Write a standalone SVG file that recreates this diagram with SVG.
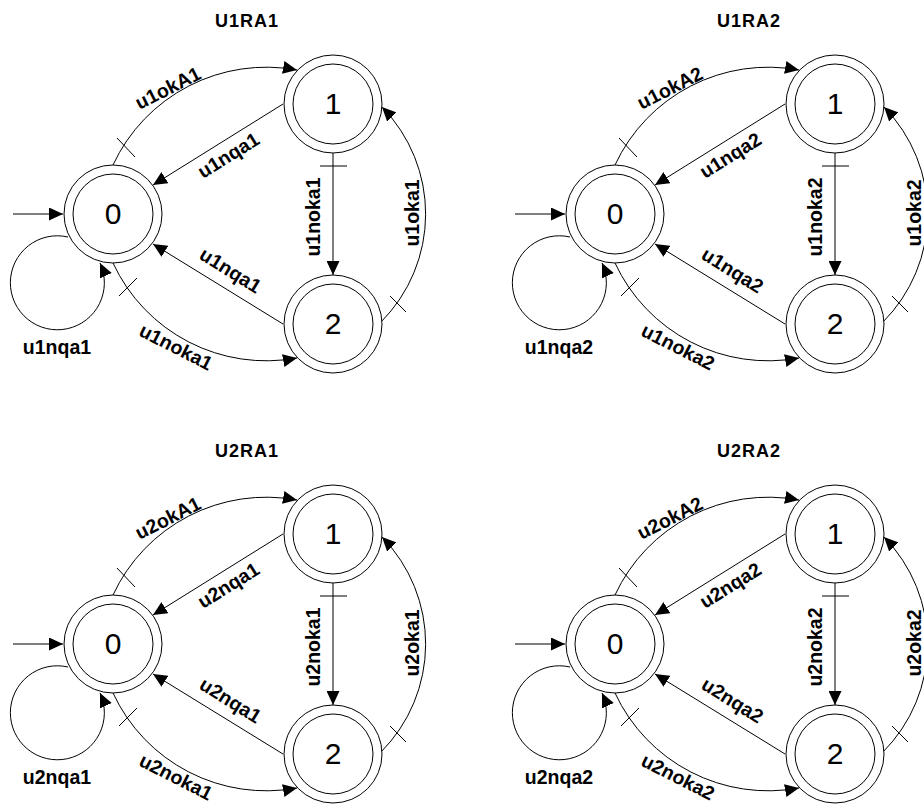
<svg xmlns="http://www.w3.org/2000/svg" width="924" height="805" viewBox="0 0 924 805">
<defs>
<marker id="ah" markerUnits="userSpaceOnUse" markerWidth="14" markerHeight="13" refX="14" refY="6.5" orient="auto"><path d="M0,0 L14,6.5 L0,13 z" fill="#000"/></marker>
<style>
.e{fill:none;stroke:#000;stroke-width:1;marker-end:url(#ah)}
.k{fill:none;stroke:#000;stroke-width:1}
.o{fill:#fff;stroke:#000;stroke-width:1}
.i{fill:none;stroke:#000;stroke-width:1}
.n{font-family:"Liberation Sans",Arial,sans-serif;font-size:30px;text-anchor:middle;fill:#000}
.l{font-family:"Liberation Sans",Arial,sans-serif;font-size:19.5px;font-weight:bold;text-anchor:middle;fill:#000}
.t{font-family:"Liberation Sans",Arial,sans-serif;font-size:18px;font-weight:bold;letter-spacing:1px;text-anchor:middle;fill:#000}
</style>
</defs>
<rect width="924" height="805" fill="#fff"/>

<!-- U1RA1 -->
<g id="U1RA1" transform="translate(0,0)">
<text class="t" x="247" y="27">U1RA1</text>
<g id="U1RA1-edges">
<path class="e" d="M13,214 H63"/>
<path class="e" d="M68,237 A47,47 0 1,0 100,263"/>
<path class="e" d="M113,165 A169,169 0 0,1 297,70"/>
<path class="e" d="M283,104 L153,185"/>
<path class="e" d="M333,153 V275"/>
<path class="e" d="M283,324 L153,244"/>
<path class="e" d="M113,263 A169,169 0 0,0 297,358"/>
<path class="e" d="M381,322 A153,153 0 0,0 382,107"/>
<path class="k" d="M117,138 L135,157 M119,296 L137,278 M320,166 H347 M390,296 L406,312"/>
<text class="l" x="57" y="354">u1nqa1</text>
<text class="l" transform="translate(171,94) rotate(-27)">u1okA1</text>
<text class="l" transform="translate(232,161) rotate(-31.9)">u1nqa1</text>
<text class="l" transform="translate(227,276) rotate(31.9)">u1nqa1</text>
<text class="l" transform="translate(173,353) rotate(27)">u1noka1</text>
<text class="l" transform="translate(320,217) rotate(-90)">u1noka1</text>
<text class="l" transform="translate(419,213) rotate(-90)">u1oka1</text>
</g>
<g id="U1RA1-s0"><circle class="o" cx="113" cy="214" r="49"/><circle class="i" cx="113" cy="214" r="40"/><text class="n" x="113" y="224">0</text></g>
<g id="U1RA1-s1"><circle class="o" cx="333" cy="104" r="49"/><circle class="i" cx="333" cy="104" r="40"/><text class="n" x="333" y="114">1</text></g>
<g id="U1RA1-s2"><circle class="o" cx="333" cy="324" r="49"/><circle class="i" cx="333" cy="324" r="40"/><text class="n" x="333" y="334">2</text></g>
</g>

<!-- U1RA2 -->
<g id="U1RA2" transform="translate(502,0)">
<text class="t" x="247" y="27">U1RA2</text>
<g id="U1RA2-edges">
<path class="e" d="M13,214 H63"/>
<path class="e" d="M68,237 A47,47 0 1,0 100,263"/>
<path class="e" d="M113,165 A169,169 0 0,1 297,70"/>
<path class="e" d="M283,104 L153,185"/>
<path class="e" d="M333,153 V275"/>
<path class="e" d="M283,324 L153,244"/>
<path class="e" d="M113,263 A169,169 0 0,0 297,358"/>
<path class="e" d="M381,322 A153,153 0 0,0 382,107"/>
<path class="k" d="M117,138 L135,157 M119,296 L137,278 M320,166 H347 M390,296 L406,312"/>
<text class="l" x="57" y="354">u1nqa2</text>
<text class="l" transform="translate(171,94) rotate(-27)">u1okA2</text>
<text class="l" transform="translate(232,161) rotate(-31.9)">u1nqa2</text>
<text class="l" transform="translate(227,276) rotate(31.9)">u1nqa2</text>
<text class="l" transform="translate(173,353) rotate(27)">u1noka2</text>
<text class="l" transform="translate(320,217) rotate(-90)">u1noka2</text>
<text class="l" transform="translate(419,213) rotate(-90)">u1oka2</text>
</g>
<g id="U1RA2-s0"><circle class="o" cx="113" cy="214" r="49"/><circle class="i" cx="113" cy="214" r="40"/><text class="n" x="113" y="224">0</text></g>
<g id="U1RA2-s1"><circle class="o" cx="333" cy="104" r="49"/><circle class="i" cx="333" cy="104" r="40"/><text class="n" x="333" y="114">1</text></g>
<g id="U1RA2-s2"><circle class="o" cx="333" cy="324" r="49"/><circle class="i" cx="333" cy="324" r="40"/><text class="n" x="333" y="334">2</text></g>
</g>

<!-- U2RA1 -->
<g id="U2RA1" transform="translate(0,430)">
<text class="t" x="247" y="27">U2RA1</text>
<g id="U2RA1-edges">
<path class="e" d="M13,214 H63"/>
<path class="e" d="M68,237 A47,47 0 1,0 100,263"/>
<path class="e" d="M113,165 A169,169 0 0,1 297,70"/>
<path class="e" d="M283,104 L153,185"/>
<path class="e" d="M333,153 V275"/>
<path class="e" d="M283,324 L153,244"/>
<path class="e" d="M113,263 A169,169 0 0,0 297,358"/>
<path class="e" d="M381,322 A153,153 0 0,0 382,107"/>
<path class="k" d="M117,138 L135,157 M119,296 L137,278 M320,166 H347 M390,296 L406,312"/>
<text class="l" x="57" y="354">u2nqa1</text>
<text class="l" transform="translate(171,94) rotate(-27)">u2okA1</text>
<text class="l" transform="translate(232,161) rotate(-31.9)">u2nqa1</text>
<text class="l" transform="translate(227,276) rotate(31.9)">u2nqa1</text>
<text class="l" transform="translate(173,353) rotate(27)">u2noka1</text>
<text class="l" transform="translate(320,217) rotate(-90)">u2noka1</text>
<text class="l" transform="translate(419,213) rotate(-90)">u2oka1</text>
</g>
<g id="U2RA1-s0"><circle class="o" cx="113" cy="214" r="49"/><circle class="i" cx="113" cy="214" r="40"/><text class="n" x="113" y="224">0</text></g>
<g id="U2RA1-s1"><circle class="o" cx="333" cy="104" r="49"/><circle class="i" cx="333" cy="104" r="40"/><text class="n" x="333" y="114">1</text></g>
<g id="U2RA1-s2"><circle class="o" cx="333" cy="324" r="49"/><circle class="i" cx="333" cy="324" r="40"/><text class="n" x="333" y="334">2</text></g>
</g>

<!-- U2RA2 -->
<g id="U2RA2" transform="translate(502,430)">
<text class="t" x="247" y="27">U2RA2</text>
<g id="U2RA2-edges">
<path class="e" d="M13,214 H63"/>
<path class="e" d="M68,237 A47,47 0 1,0 100,263"/>
<path class="e" d="M113,165 A169,169 0 0,1 297,70"/>
<path class="e" d="M283,104 L153,185"/>
<path class="e" d="M333,153 V275"/>
<path class="e" d="M283,324 L153,244"/>
<path class="e" d="M113,263 A169,169 0 0,0 297,358"/>
<path class="e" d="M381,322 A153,153 0 0,0 382,107"/>
<path class="k" d="M117,138 L135,157 M119,296 L137,278 M320,166 H347 M390,296 L406,312"/>
<text class="l" x="57" y="354">u2nqa2</text>
<text class="l" transform="translate(171,94) rotate(-27)">u2okA2</text>
<text class="l" transform="translate(232,161) rotate(-31.9)">u2nqa2</text>
<text class="l" transform="translate(227,276) rotate(31.9)">u2nqa2</text>
<text class="l" transform="translate(173,353) rotate(27)">u2noka2</text>
<text class="l" transform="translate(320,217) rotate(-90)">u2noka2</text>
<text class="l" transform="translate(419,213) rotate(-90)">u2oka2</text>
</g>
<g id="U2RA2-s0"><circle class="o" cx="113" cy="214" r="49"/><circle class="i" cx="113" cy="214" r="40"/><text class="n" x="113" y="224">0</text></g>
<g id="U2RA2-s1"><circle class="o" cx="333" cy="104" r="49"/><circle class="i" cx="333" cy="104" r="40"/><text class="n" x="333" y="114">1</text></g>
<g id="U2RA2-s2"><circle class="o" cx="333" cy="324" r="49"/><circle class="i" cx="333" cy="324" r="40"/><text class="n" x="333" y="334">2</text></g>
</g>
</svg>
